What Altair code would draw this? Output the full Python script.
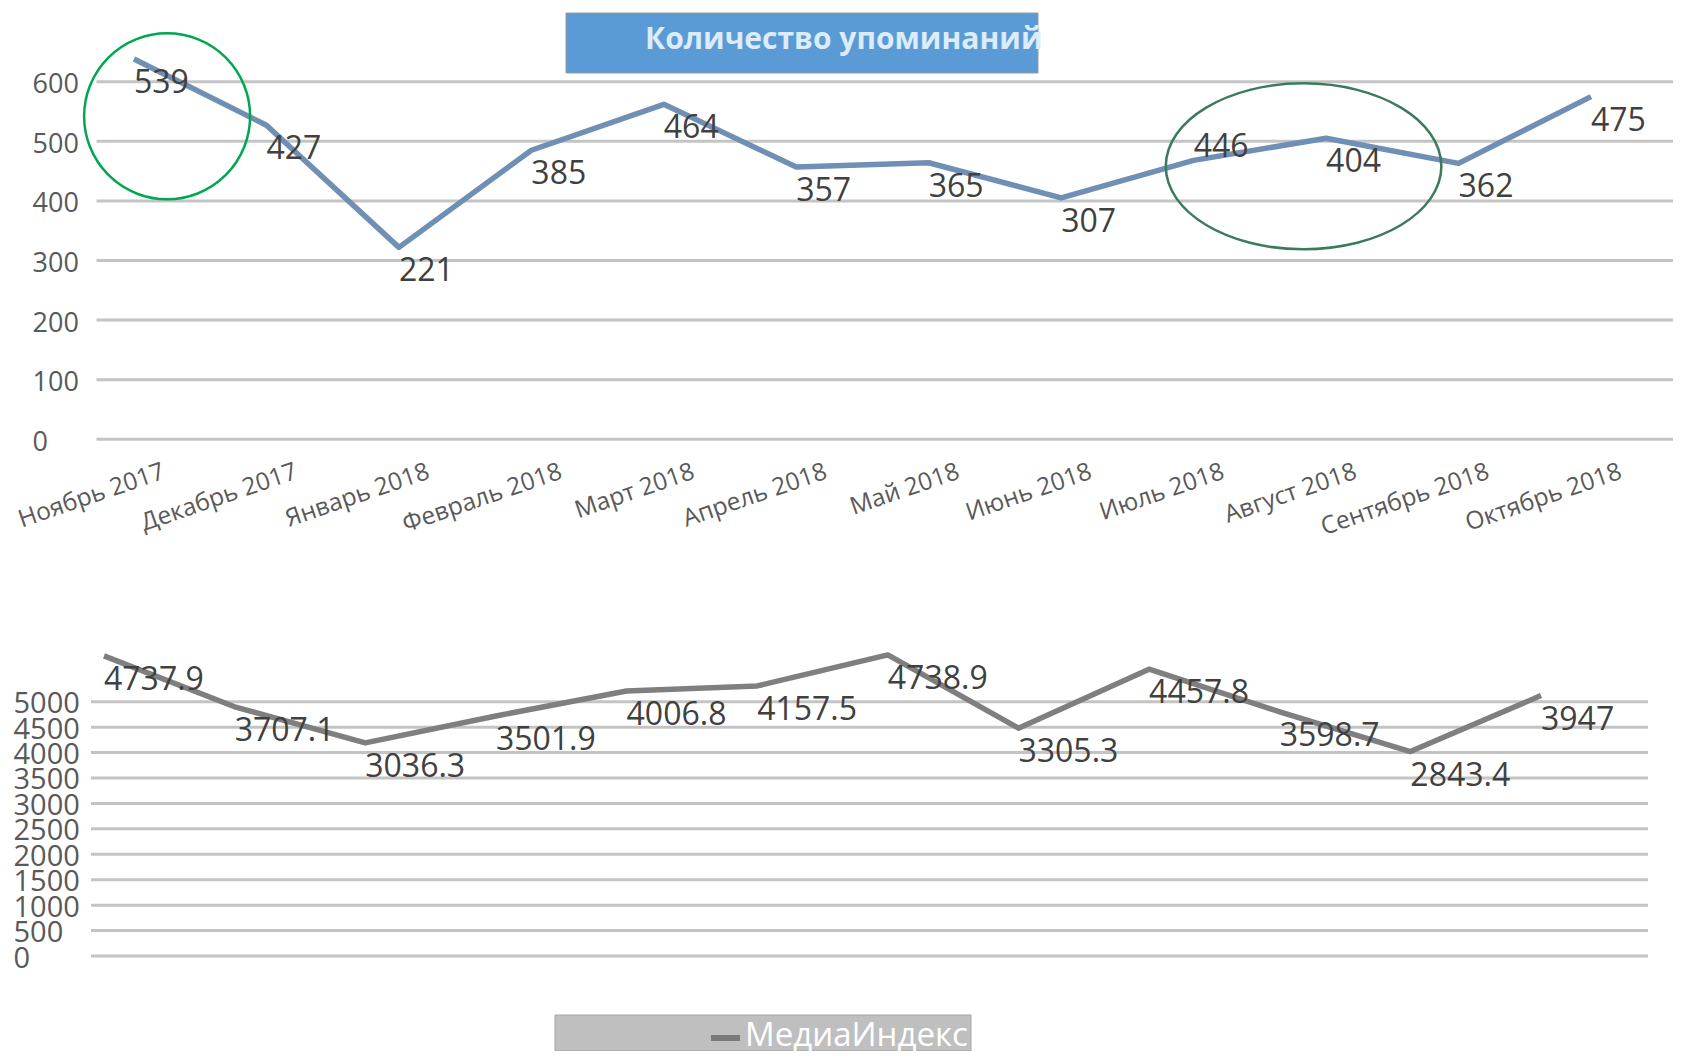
import altair as alt
import pandas as pd

months = ["Ноябрь 2017", "Декабрь 2017", "Январь 2018", "Февраль 2018", "Март 2018",
          "Апрель 2018", "Май 2018", "Июнь 2018", "Июль 2018", "Август 2018",
          "Сентябрь 2018", "Октябрь 2018"]

# heights of the drawn lines
mentions_line = [638, 527, 322, 485, 562, 457, 464, 405, 468, 505, 463, 575]
media_line = [5900, 4900, 4190, 4720, 5210, 5310, 5920, 4480, 5640, 4800, 4020, 5120]

# the data labels printed next to the points, and the height each sits at
mentions_labels = ["539", "427", "221", "385", "464", "357", "365", "307", "446", "404", "362", "475"]
mentions_label_at = [638, 527, 322, 485, 562, 457, 464, 405, 531, 505, 463, 575]
media_labels = ["4737.9", "3707.1", "3036.3", "3501.9", "4006.8", "4157.5", "4738.9",
                "3305.3", "4457.8", "3598.7", "2843.4", "3947"]

top_ticks = [0, 100, 200, 300, 400, 500, 600]
bottom_ticks = [0, 500, 1000, 1500, 2000, 2500, 3000, 3500, 4000, 4500, 5000]

top_title = "Количество упоминаний"
bottom_legend = "МедиаИндекс"

# annotation ellipses (position in the top chart's data space)
ann_i = [0.25, 8.83]
ann_v = [542, 458]
ann_shape = ["circle", "M -1.66 0 A 1.66 1 0 1 1 1.66 0 A 1.66 1 0 1 1 -1.66 0 Z"]
ann_color = ["#00a650", "#3b7a5c"]

FONT = "Open Sans"
W, H = 1665, 1043

top = pd.DataFrame({"i": list(range(12)), "v": mentions_line, "lab": mentions_labels,
                    "lab_at": mentions_label_at, "month": months})
bot = pd.DataFrame({"i": list(range(12)), "v": media_line, "lab": media_labels})
ann = pd.DataFrame({"i": ann_i, "v": ann_v, "shape": ann_shape, "color": ann_color})

top_x = alt.Scale(domain=[0, 11], range=[126, 1583], nice=False, zero=False)
top_x_lab = alt.Scale(domain=[0, 11], range=[152, 1609], nice=False, zero=False)
top_y = alt.Scale(domain=[0, 600], range=[431.3, 73.7], nice=False, zero=False)
bot_x = alt.Scale(domain=[0, 11], range=[96, 1533], nice=False, zero=False)
bot_y = alt.Scale(domain=[0, 5000], range=[948, 693.7], nice=False, zero=False)


def yaxis(values, pad, size, offset):
    return alt.Axis(orient="left", values=values, format="d", grid=False, domain=False,
                    ticks=False, tickSize=0, labelAlign="left", labelBaseline="middle",
                    labelPadding=pad, labelFont=FONT, labelFontSize=size, labelColor="#595959",
                    labelOverlap=False, labelFlush=False, labelOffset=offset, title=None)


grid_top = alt.Chart(pd.DataFrame({"v": top_ticks})).mark_rule(
    color="#c4c4c4", strokeWidth=3).encode(
    y=alt.Y("v:Q", scale=top_y, axis=yaxis(top_ticks, -24, 27, 3)),
    x=alt.value(88.5), x2=alt.value(W))

grid_bot = alt.Chart(pd.DataFrame({"v": bottom_ticks})).mark_rule(
    color="#c4c4c4", strokeWidth=3).encode(
    y=alt.Y("v:Q", scale=bot_y, axis=yaxis(bottom_ticks, -5, 29, 2)),
    x=alt.value(83), x2=alt.value(1640))

line_top = alt.Chart(top).mark_line(color="#6f8fb4", strokeWidth=5.5, strokeJoin="round").encode(
    x=alt.X("i:Q", scale=top_x, axis=None),
    y=alt.Y("v:Q", scale=top_y, axis=None))

text_top = alt.Chart(top).mark_text(align="left", baseline="middle", dy=24, font=FONT,
                                    fontSize=32, color="#404040").encode(
    x=alt.X("i:Q", scale=top_x, axis=None),
    y=alt.Y("lab_at:Q", scale=top_y, axis=None),
    text="lab:N")

month_text = alt.Chart(top).mark_text(align="right", baseline="top", angle=341, font=FONT,
                                      fontSize=24.5, color="#595959").encode(
    x=alt.X("i:Q", scale=top_x_lab, axis=None),
    y=alt.value(452),
    text="month:N")

line_bot = alt.Chart(bot).mark_line(color="#7f7f7f", strokeWidth=5.5, strokeJoin="round").encode(
    x=alt.X("i:Q", scale=bot_x, axis=None),
    y=alt.Y("v:Q", scale=bot_y, axis=None))

text_bot = alt.Chart(bot).mark_text(align="left", baseline="middle", dy=24, font=FONT,
                                    fontSize=32, color="#404040").encode(
    x=alt.X("i:Q", scale=bot_x, axis=None),
    y=alt.Y("v:Q", scale=bot_y, axis=None),
    text="lab:N")

circles = alt.Chart(ann).mark_point(filled=False, strokeWidth=2.5, size=27556, opacity=1).encode(
    x=alt.X("i:Q", scale=top_x, axis=None),
    y=alt.Y("v:Q", scale=top_y, axis=None),
    shape=alt.Shape("shape:N", scale=None),
    stroke=alt.Stroke("color:N", scale=None))

title_df = pd.DataFrame({"t": [top_title]})
title_box = alt.Chart(title_df).mark_rect(color="#5b9bd5", stroke="#9a9a9a", strokeWidth=1).encode(
    x=alt.value(558), x2=alt.value(1030), y=alt.value(5), y2=alt.value(65))
title_text = alt.Chart(title_df).mark_text(align="left", baseline="middle", font=FONT, fontSize=30,
                                           fontWeight="bold", color="#dcecfb").encode(
    x=alt.value(637), y=alt.value(32), text="t:N")

leg_df = pd.DataFrame({"t": [bottom_legend]})
leg_box = alt.Chart(leg_df).mark_rect(color="#bfbfbf", stroke="#a5a5a5", strokeWidth=1).encode(
    x=alt.value(547), x2=alt.value(963), y=alt.value(1007), y2=alt.value(1043))
leg_sym = alt.Chart(leg_df).mark_rule(color="#7a7a7a", strokeWidth=6).encode(
    x=alt.value(703), x2=alt.value(732), y=alt.value(1030))
leg_text = alt.Chart(leg_df).mark_text(align="left", baseline="middle", font=FONT, fontSize=33,
                                       color="#ffffff").encode(
    x=alt.value(737), y=alt.value(1028), text="t:N")

chart = alt.layer(
    grid_top, grid_bot, line_top, text_top, month_text, line_bot, text_bot, circles,
    title_box, title_text, leg_box, leg_sym, leg_text
).resolve_scale(x="independent", y="independent").properties(
    width=W, height=H, autosize=alt.AutoSizeParams(type="none"), padding=0, background="white"
).configure_view(stroke=None)

chart.save("out.html", embed_options={"renderer": "svg", "actions": False})
